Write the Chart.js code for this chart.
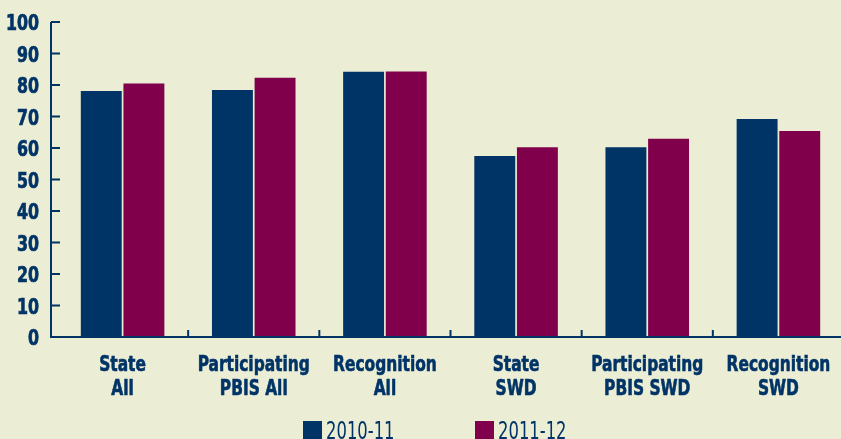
<!DOCTYPE html>
<html>
<head>
<meta charset="utf-8">
<script src="https://cdn.jsdelivr.net/npm/chart.js@4.4.0/dist/chart.umd.min.js"></script>
<style>
  html, body { margin: 0; padding: 0; overflow: hidden; background: #ebeed5; }
  #wrap { width: 850px; height: 439px; }
</style>
</head>
<body>
<div id="wrap"><canvas id="schoolChart"></canvas></div>
<script>
const categories = [
  ["State", "All"],
  ["Participating", "PBIS All"],
  ["Recognition", "All"],
  ["State", "SWD"],
  ["Participating", "PBIS SWD"],
  ["Recognition", "SWD"]
];
const seriesNames = ["2010-11", "2011-12"];
const values2010 = [78.1, 78.4, 84.2, 57.5, 60.2, 69.2];
const values2011 = [80.5, 82.3, 84.3, 60.2, 62.9, 65.4];

const navy = "#003366";
const maroon = "#80004c";
const font = "'DejaVu Sans Condensed', 'Liberation Sans', sans-serif";

// condensed text: the installed fonts are wider than the original
function squeezeText(ctx, text, x, y, sx, heavy) {
  ctx.save();
  ctx.translate(x, y);
  ctx.scale(sx, 1);
  if (heavy) {
    ctx.lineWidth = heavy;
    ctx.strokeStyle = ctx.fillStyle;
    ctx.strokeText(text, 0, 0);
  }
  ctx.fillText(text, 0, 0);
  ctx.restore();
}

// axis lines, inward ticks, labels and legend
const axesPlugin = {
  id: "axes",
  afterDatasetsDraw(chart) {
    const { ctx, chartArea, scales } = chart;
    const x = scales.x, y = scales.y;
    const ax = chartArea.left - 6;
    const y0 = y.getPixelForValue(0);
    ctx.save();
    ctx.strokeStyle = navy;
    ctx.lineWidth = 2;
    ctx.beginPath();
    ctx.moveTo(ax, y.getPixelForValue(100));
    ctx.lineTo(ax, y0);
    ctx.lineTo(chart.width, y0);
    y.ticks.forEach((t) => {
      const py = y.getPixelForValue(t.value);
      ctx.moveTo(ax, py);
      ctx.lineTo(ax + 9, py);
    });
    for (let i = 1; i < categories.length; i++) {
      const px = (x.getPixelForValue(i - 1) + x.getPixelForValue(i)) / 2;
      ctx.moveTo(px, y0);
      ctx.lineTo(px, y0 - 7);
    }
    ctx.stroke();

    ctx.fillStyle = navy;
    ctx.textBaseline = "alphabetic";

    // y tick labels
    ctx.font = "bold 22px " + font;
    ctx.textAlign = "right";
    y.ticks.forEach((t) => {
      squeezeText(ctx, String(t.value), 39, y.getPixelForValue(t.value) + 8, 0.8, 0.7);
    });

    // category labels
    ctx.font = "bold 22px " + font;
    ctx.textAlign = "center";
    categories.forEach((lines, i) => {
      const px = x.getPixelForValue(i);
      lines.forEach((line, j) => {
        squeezeText(ctx, line, px, y0 + 34 + j * 24, 0.78, 0.6);
      });
    });

    // legend
    ctx.font = "24px " + font;
    ctx.textAlign = "left";
    chart.data.datasets.forEach((ds, i) => {
      const lx = 303 + i * 172;
      ctx.fillStyle = ds.backgroundColor;
      ctx.fillRect(lx, 421, 19, 19);
      ctx.fillStyle = navy;
      squeezeText(ctx, ds.label, lx + 23, 439, 0.76, 0);
    });
    ctx.restore();
  }
};

new Chart(document.getElementById("schoolChart"), {
  type: "bar",
  data: {
    labels: categories,
    datasets: [
      { label: seriesNames[0], data: values2010, backgroundColor: navy },
      { label: seriesNames[1], data: values2011, backgroundColor: maroon }
    ]
  },
  options: {
    responsive: true,
    maintainAspectRatio: false,
    animation: false,
    categoryPercentage: 0.65,
    barPercentage: 0.96,
    layout: { padding: { top: 22, right: 6, bottom: 0, left: 0 } },
    scales: {
      x: {
        grid: { display: false },
        border: { display: false },
        ticks: { display: false },
        afterFit: (scale) => { scale.height = 102; }
      },
      y: {
        min: 0,
        max: 100,
        grid: { display: false },
        border: { display: false },
        ticks: { display: false, stepSize: 10 },
        afterFit: (scale) => { scale.width = 57; }
      }
    },
    plugins: {
      legend: { display: false },
      tooltip: { enabled: false }
    }
  },
  plugins: [axesPlugin]
});
</script>
</body>
</html>
